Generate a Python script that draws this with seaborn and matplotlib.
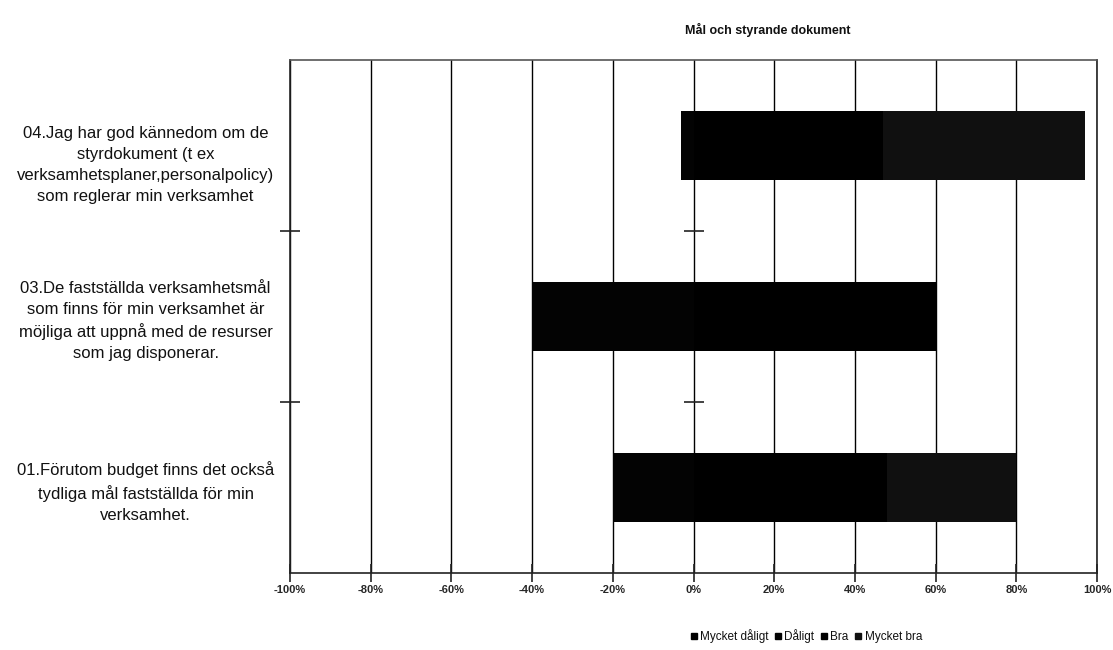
import matplotlib
matplotlib.use("Agg")
import matplotlib.pyplot as plt
from matplotlib.ticker import FixedLocator, FuncFormatter
from matplotlib.lines import Line2D
from matplotlib.transforms import ScaledTranslation
import seaborn as sns
import pandas as pd

# Survey questions (top to bottom) and share of answers in percent
questions = [
    "04.Jag har god kännedom om de\nstyrdokument (t ex\nverksamhetsplaner,personalpolicy)\nsom reglerar min verksamhet",
    "03.De fastställda verksamhetsmål\nsom finns för min verksamhet är\nmöjliga att uppnå med de resurser\nsom jag disponerar.",
    "01.Förutom budget finns det också\ntydliga mål fastställda för min\nverksamhet.",
]
mycket_daligt = [0, 0, 0]
daligt = [3, 40, 20]
bra = [47, 60, 48]
mycket_bra = [50, 0, 32]

categories = ["Mycket dåligt", "Dåligt", "Bra", "Mycket bra"]
colors = {"Mycket dåligt": "#000000", "Dåligt": "#030303",
          "Bra": "#000000", "Mycket bra": "#101010"}
x_ticks = list(range(-100, 101, 20))
title = "Mål och styrande dokument"

df = pd.DataFrame({
    "fraga": questions,
    "Mycket dåligt": mycket_daligt,
    "Dåligt": daligt,
    "Bra": bra,
    "Mycket bra": mycket_bra,
})
# Cumulative extents for the diverging stack (outer segments drawn first)
df["neg_outer"] = -(df["Dåligt"] + df["Mycket dåligt"])
df["neg_inner"] = -df["Dåligt"]
df["pos_outer"] = df["Bra"] + df["Mycket bra"]
df["pos_inner"] = df["Bra"]

sns.set_style("white")
plt.rcParams["font.family"] = ["Liberation Sans", "DejaVu Sans"]

fig = plt.figure(figsize=(11.13, 6.5), dpi=100)
ax = fig.add_axes([290 / 1113, 1 - 573 / 650, 807 / 1113, 513 / 650])

layers = [("neg_outer", "Mycket dåligt"), ("neg_inner", "Dåligt"),
          ("pos_outer", "Mycket bra"), ("pos_inner", "Bra")]
for col, cat in layers:
    sns.barplot(data=df, x=col, y="fraga", order=questions, orient="h",
                color=colors[cat], width=0.4, ax=ax, linewidth=0,
                saturation=1, zorder=3)

ax.set_xlim(-100, 100)
ax.set_ylim(2.5, -0.5)
ax.set_xlabel("")
ax.set_ylabel("")

# Vertical grid at every 20 %
ax.xaxis.set_major_locator(FixedLocator(x_ticks))
ax.xaxis.set_major_formatter(FuncFormatter(lambda v, p: f"{int(v)}%"))
ax.grid(axis="x", color="black", linewidth=1.0, zorder=1)
ax.grid(axis="y", visible=False)
ax.set_axisbelow(True)

ax.tick_params(axis="x", which="major", direction="inout", length=13,
               width=1.2, color="#222222", labelsize=8, pad=2, bottom=True)
for lbl in ax.get_xticklabels():
    lbl.set_family(["Liberation Sans Narrow", "Liberation Sans", "DejaVu Sans"])
    lbl.set_fontweight("bold")

# Category labels centered to the left of the plot
ax.tick_params(axis="y", which="major", length=0, pad=104, labelsize=12)
ylabels = ax.get_yticklabels()
for lbl in ylabels:
    lbl.set_horizontalalignment("center")
    lbl.set_multialignment("center")
    lbl.set_linespacing(1.5)
    lbl.set_color("#111111")
# the first question's text block sits a little below its bar
ylabels[0].set_transform(ylabels[0].get_transform()
                         + ScaledTranslation(0, -0.15, fig.dpi_scale_trans))

# Category boundary ticks on the left axis and on the 0 line
ax.yaxis.set_minor_locator(FixedLocator([0.5, 1.5]))
ax.tick_params(axis="y", which="minor", direction="inout", length=14,
               width=1.2, color="#222222", left=True)
ax.plot([0, 0], [0.5, 1.5], linestyle="none", marker="_", markersize=15,
        markeredgewidth=1.2, color="#222222", zorder=4, clip_on=False)

for side in ["left", "right", "top", "bottom"]:
    ax.spines[side].set_visible(True)
    ax.spines[side].set_color("#222222")
    ax.spines[side].set_linewidth(1.2)
ax.spines["top"].set_color("#555555")

fig.text(768 / 1113, 1 - 30 / 650, title, ha="center", va="center",
         fontsize=9, fontweight="bold", color="#111111")

handles = [Line2D([], [], marker="s", linestyle="none", markersize=5,
                  color=colors[c]) for c in categories]
leg = fig.legend(handles, categories, loc="center",
                 bbox_to_anchor=(806 / 1113, 1 - 636 / 650), ncol=4,
                 frameon=False, handlelength=0.6, handletextpad=0.25,
                 columnspacing=0.5, prop={"size": 8.5})
for t in leg.get_texts():
    t.set_family(["Liberation Sans Narrow", "Liberation Sans", "DejaVu Sans"])
    t.set_color("#111111")

fig.savefig("out.png", dpi=100)
